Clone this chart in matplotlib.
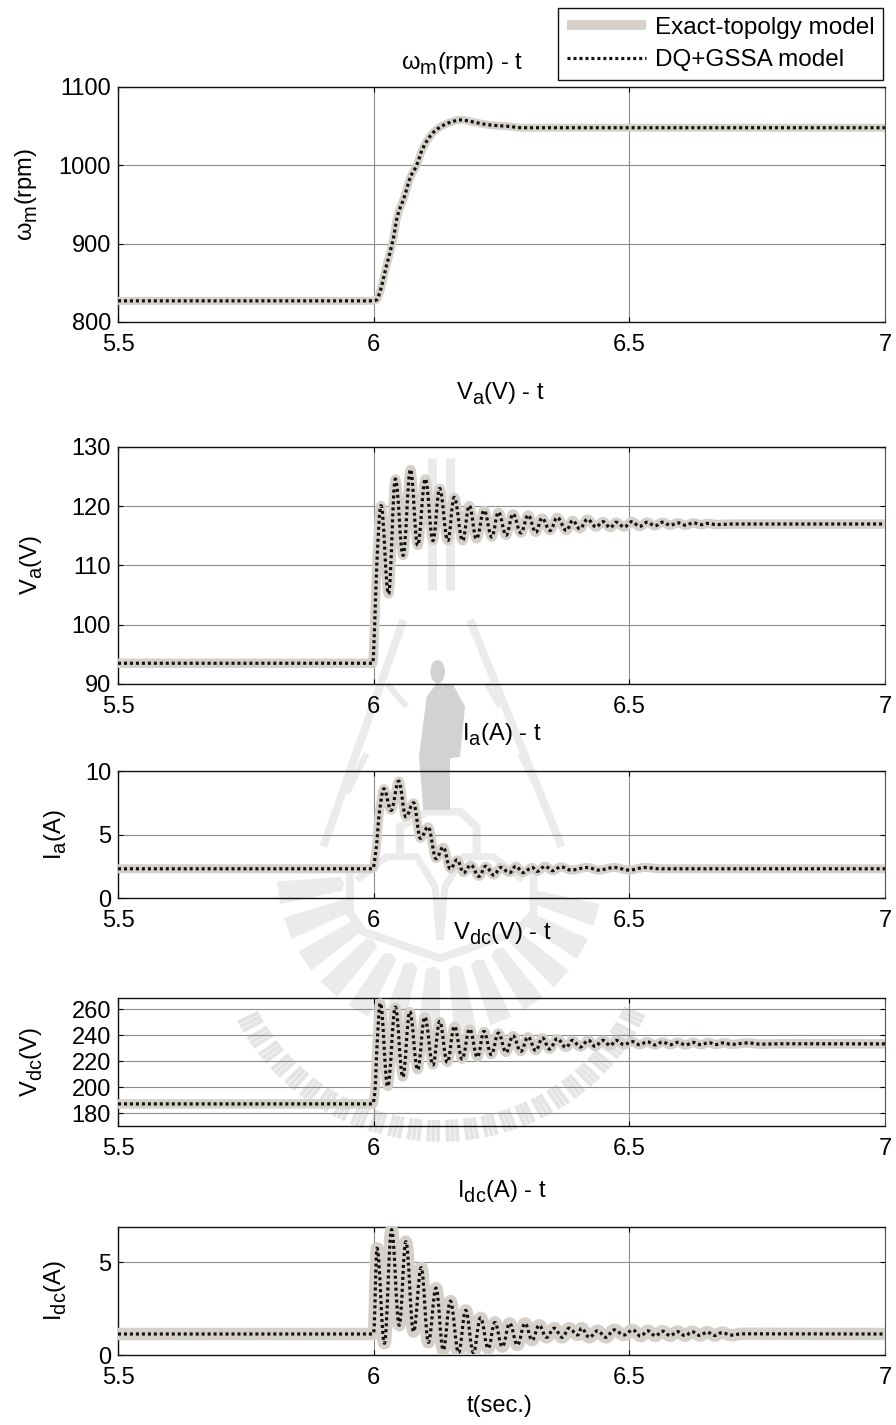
import matplotlib
matplotlib.use("Agg")
import matplotlib.pyplot as plt
from matplotlib import _mathtext
from matplotlib.lines import Line2D
from matplotlib.patches import Polygon, Ellipse, PathPatch
from matplotlib.path import Path
import math

W, H = 896, 1425
plt.rcParams['font.family'] = ['Liberation Sans', 'DejaVu Sans']
plt.rcParams['mathtext.fontset'] = 'custom'
plt.rcParams['mathtext.rm'] = 'Liberation Sans'
plt.rcParams['mathtext.it'] = 'Liberation Sans'
plt.rcParams['mathtext.bf'] = 'Liberation Sans'
plt.rcParams['mathtext.default'] = 'regular'
_mathtext.SHRINK_FACTOR = 0.85
_mathtext.FontConstantsBase.sub1 = 0.42
_mathtext.FontConstantsBase.sub2 = 0.42

# ---------- data ----------
wm_t = [5.5, 5.998, 6.005, 6.012, 6.025, 6.038, 6.046, 6.06, 6.072, 6.084, 6.095, 6.108, 6.12, 6.136,
        6.15, 6.17, 6.19, 6.212, 6.235, 6.26, 6.29, 6.5, 7.0]
wm_v = [827, 827, 828, 838, 872, 905, 934, 960, 985, 1000, 1020, 1035, 1044, 1051,
        1055, 1058, 1056, 1053, 1051, 1050, 1048, 1048, 1048]

va_t = [5.5, 5.998, 6.002, 6.006, 6.0144, 6.029, 6.0425, 6.0575, 6.072, 6.086, 6.101, 6.116, 6.129, 6.145,
        6.1575, 6.174, 6.187, 6.201, 6.216, 6.231, 6.244, 6.259, 6.2725, 6.288, 6.302, 6.317,
        6.329, 6.345, 6.359, 6.377, 6.389, 6.403, 6.418, 6.435, 6.448, 6.463, 6.474, 6.49,
        6.505, 6.52, 6.535, 6.55, 6.565, 6.58, 6.595, 6.61, 6.625, 6.64, 6.655, 6.67, 6.7, 7.0]
va_v = [93.5, 93.5, 100, 110, 120.1, 105.2, 124.6, 111.7, 126.2, 113.4, 124.6, 114.2, 123, 114.2,
        121.5, 114.2, 120.1, 114.5, 119.3, 114.8, 119, 115.1, 118.7, 115.5, 118.5, 115.6,
        118, 115.9, 118.1, 115.9, 117.6, 116.2, 117.8, 116.5, 117.4, 116.4, 117.3, 116.5,
        117.4, 116.6, 117.3, 116.7, 117.3, 116.8, 117.2, 116.8, 117.2, 116.9, 117.1, 116.9, 117, 117]

ia_t = [5.5, 5.998, 6.004, 6.012, 6.02, 6.034, 6.049, 6.063, 6.078, 6.0915, 6.1065, 6.122, 6.136, 6.15,
        6.163, 6.176, 6.19, 6.206, 6.219, 6.235, 6.248, 6.266, 6.278, 6.292, 6.31, 6.32,
        6.335, 6.35, 6.366, 6.386, 6.418, 6.44, 6.47, 6.5, 6.53, 6.56, 7.0]
ia_v = [2.3, 2.3, 3.6, 7.0, 8.6, 6.9, 9.2, 6.4, 7.5, 4.7, 5.6, 3.1, 4.0, 2.3,
        3.0, 2.0, 2.6, 1.7, 2.5, 1.8, 2.4, 2.0, 2.5, 2.0, 2.4, 2.1,
        2.5, 2.15, 2.45, 2.2, 2.4, 2.2, 2.4, 2.2, 2.4, 2.3, 2.3]

vdc_t = [5.5, 5.998, 6.002, 6.007, 6.013, 6.0275, 6.0425, 6.057, 6.0706, 6.086, 6.1, 6.116, 6.129, 6.144,
         6.158, 6.173, 6.1876, 6.203, 6.2157, 6.23, 6.244, 6.259, 6.2725, 6.2876, 6.302, 6.317,
         6.33, 6.344, 6.359, 6.376, 6.389, 6.404, 6.42, 6.433, 6.448, 6.463, 6.474, 6.49,
         6.505, 6.52, 6.535, 6.55, 6.565, 6.58, 6.595, 6.61, 6.625, 6.64, 6.655, 6.67, 6.685, 6.7, 6.73, 6.76, 6.8, 7.0]
vdc_v = [187, 187, 195, 235, 264.6, 200.5, 261.5, 207.7, 258, 213.3, 253.8, 217, 250.5, 219,
         246.7, 221.5, 244.6, 223, 242.8, 224.9, 241.5, 226.7, 239.5, 227.4, 238.5, 228,
         237.7, 229.2, 237.2, 230.5, 235.9, 230.8, 235.9, 231.3, 235.9, 232, 235.9, 232.6,
         235, 232.6, 234.8, 232.4, 234.6, 232.6, 234.4, 232.4, 234.3, 232.6, 234.2, 232.7, 234, 232.8, 233.9, 233, 233.3, 233.2]

idc_t = [5.5, 5.998, 6.0, 6.0065, 6.021, 6.035, 6.05, 6.063, 6.078, 6.093, 6.107, 6.122, 6.136,
         6.15, 6.166, 6.18, 6.195, 6.209, 6.224, 6.237, 6.2516, 6.266, 6.281, 6.296, 6.31,
         6.3235, 6.338, 6.353, 6.369, 6.382, 6.399, 6.4065, 6.4216, 6.438, 6.454, 6.47, 6.49,
         6.5065, 6.522, 6.536, 6.551, 6.565, 6.58, 6.594, 6.609, 6.623, 6.638, 6.652, 6.667, 6.681, 6.7, 6.72, 7.0]
idc_v = [1.13, 1.13, 1.2, 5.75, 0.63, 6.75, 1.6, 6.1, 1.26, 4.7, 0.68, 3.6, 0.27,
         2.9, 0.13, 2.4, 0.13, 2.0, 0.36, 1.75, 0.45, 1.7, 0.54, 1.7, 0.8,
         1.6, 0.95, 1.44, 0.95, 1.44, 1.08, 1.44, 0.95, 1.3, 0.95, 1.35, 1.08,
         1.35, 1.02, 1.3, 1.03, 1.28, 1.04, 1.26, 1.04, 1.25, 1.05, 1.23, 1.05, 1.2, 1.07, 1.14, 1.13]

x_ticks = [5.5, 6, 6.5, 7]
x_ticklabels = ['5.5', '6', '6.5', '7']
wm_ticks = [800, 900, 1000, 1100]
va_ticks = [90, 100, 110, 120, 130]
ia_ticks = [0, 5, 10]
vdc_ticks = [180, 200, 220, 240, 260]
idc_ticks = [0, 5]

legend_labels = ['Exact-topolgy model', 'DQ+GSSA model']
titles = [r'$\omega_m$(rpm) - t', r'$V_a$(V) - t', r'$I_a$(A) - t', r'$V_{dc}$(V) - t', r'$I_{dc}$(A) - t']
ylabels = [r'$\omega_m$(rpm)', r'$V_a$(V)', r'$I_a$(A)', r'$V_{dc}$(V)', r'$I_{dc}$(A)']

# ---------- styling ----------
GRAY = '#d5d1ca'
DOT = '#111111'
DOTS = (0, (0.95, 0.92))
FS = 17
fig = plt.figure(figsize=(W / 100, H / 100), dpi=100, facecolor='white')

def P(x, y):
    return (x / W, 1 - y / H)

def zp(zx, zy):
    return P(200 + zx / 3, 640 + zy / 3)

def curve_path(t, v):
    """Smooth drawing path through the read points: flat tangent at each peak and trough."""
    n = len(t)
    slopes = [0.0] * n
    for i in range(1, n - 1):
        a = (v[i] - v[i - 1]) / (t[i] - t[i - 1])
        b = (v[i + 1] - v[i]) / (t[i + 1] - t[i])
        if a * b > 0:
            slopes[i] = 2 * a * b / (a + b)
    verts, codes = [(t[0], v[0])], [Path.MOVETO]
    for i in range(n - 1):
        d = (t[i + 1] - t[i]) / 2.6
        verts += [(t[i] + d, v[i] + slopes[i] * d), (t[i + 1] - d, v[i + 1] - slopes[i + 1] * d), (t[i + 1], v[i + 1])]
        codes += [Path.CURVE4] * 3
    return Path(verts, codes)

# ---------- faint university watermark (behind the axes) ----------
WM = '#ebebeb'
def stroke(pts, lw=8, color=WM):
    xs, ys = zip(*pts)
    fig.add_artist(Line2D(xs, ys, transform=fig.transFigure, color=color, lw=lw * 0.72,
                          solid_joinstyle='round', solid_capstyle='butt', zorder=1))

stroke([zp(610, -60), zp(370, 620)]); stroke([zp(810, -60), zp(1085, 620)])
stroke([zp(560, 130), zp(620, 200)], 6); stroke([zp(500, 340), zp(440, 460)], 6)
stroke([zp(860, 130), zp(900, 200)], 6); stroke([zp(960, 340), zp(1020, 460)], 6)
for px in (432, 450):
    stroke([P(px, 458), P(px, 590)], 9)
stroke([zp(450, 700), zp(450, 820), zp(490, 875), zp(720, 955), zp(950, 875), zp(1000, 820), zp(1000, 700)])
stroke([zp(600, 640), zp(600, 560), zp(680, 515), zp(780, 515), zp(830, 560), zp(830, 640)])
stroke([zp(470, 720), zp(560, 650), zp(650, 650), zp(705, 740), zp(720, 900)], 7)
stroke([zp(970, 720), zp(880, 650), zp(790, 650), zp(735, 740), zp(720, 900)], 7)
for deg in range(172, 4, -13):
    a1, a2 = math.radians(deg - 4.0), math.radians(deg + 4.0)
    pts = []
    for r, a in ((290, (a1 + a2) / 2), (300, a1), (490, a1), (490, a2), (300, a2)):
        pts.append(zp(720 + r * math.cos(a), 690 + r * math.sin(a)))
    fig.add_artist(Polygon(pts, closed=True, transform=fig.transFigure, facecolor=WM,
                           edgecolor='none', zorder=1))
# letter-like texture along the arc at the bottom of the emblem
k = 0
deg = 153.0
while deg > 25:
    if k % 4 != 3:
        a = math.radians(deg)
        stroke([zp(720 + 610 * math.cos(a), 850 + 590 * math.sin(a)),
                zp(720 + 680 * math.cos(a), 850 + 655 * math.sin(a))], 4, '#e4e4e4')
    deg -= 1.25
    k += 1
PERSON = '#d2d2d2'
fig.add_artist(Polygon([zp(680, 170), zp(710, 130), zp(760, 135), zp(795, 200), zp(780, 350), zp(750, 355),
                        zp(750, 510), zp(670, 510), zp(657, 350)], closed=True, transform=fig.transFigure,
                       facecolor=PERSON, edgecolor='none', zorder=1))
fig.add_artist(Ellipse(zp(713, 95), 44 / 3 / W, 70 / 3 / H, transform=fig.transFigure,
                       facecolor=PERSON, edgecolor='none', zorder=1))

# ---------- panels ----------
panels = [
    (87, 322, (800, 1100), wm_ticks, wm_t, wm_v, 8, 27),
    (447, 684, (90, 130), va_ticks, va_t, va_v, 9.5, 32),
    (771, 898, (0, 10), ia_ticks, ia_t, ia_v, 9, 56),
    (998, 1126, (170, 268.5), vdc_ticks, vdc_t, vdc_v, 9.5, 32),
    (1227, 1355, (0, 6.89), idc_ticks, idc_t, idc_v, 12.5, 56),
]
title_xy = [(462, 64), (500, 394), (502, 735), (502, 934), (502, 1192)]
L, R = 118, 885

for i, (top, bot, ylim, yt, t, v, glw, lab_x) in enumerate(panels):
    ax = fig.add_axes([L / W, 1 - bot / H, (R - L) / W, (bot - top) / H], zorder=5)
    ax.patch.set_alpha(0)
    path = curve_path(t, v)
    ax.add_patch(PathPatch(path, fill=False, edgecolor=GRAY, lw=glw * 0.72, capstyle='butt',
                           joinstyle='round', zorder=3))
    ax.add_patch(PathPatch(path, fill=False, edgecolor=DOT, lw=2.3, linestyle=DOTS, capstyle='butt',
                           joinstyle='round', zorder=4))
    ax.set_xlim(5.5, 7)
    ax.set_ylim(*ylim)
    ax.set_xticks(x_ticks)
    ax.set_xticklabels(x_ticklabels, fontsize=FS)
    ax.set_yticks(yt)
    ax.tick_params(axis='y', labelsize=FS, direction='in', length=3.5, width=0.8, left=True, right=True, pad=5)
    ax.tick_params(axis='x', labelsize=FS, direction='in', length=3.5, width=0.8, top=True, bottom=True, pad=8.5)
    ax.grid(True, color='#8c8c8c', lw=0.8, ls='-', zorder=1)
    ax.set_axisbelow(True)
    for s in ('left', 'bottom', 'top'):
        ax.spines[s].set_linewidth(1.0)
        ax.spines[s].set_color('#111111')
    ax.spines['right'].set_linewidth(0.8)
    ax.spines['right'].set_color('#555555')
    x, y = title_xy[i]
    fig.text(*P(x, y), titles[i], fontsize=FS, ha='center', va='center', zorder=6)
    fig.text(*P(lab_x, (top + bot) / 2 - (10 if i == 0 else 0)), ylabels[i], fontsize=FS, rotation=90,
             ha='center', va='center', zorder=6)
    if i == 4:
        fig.text(*P(500, 1406), 't(sec.)', fontsize=FS, ha='center', va='center', zorder=6)

handles = [Line2D([], [], color=GRAY, lw=7, solid_capstyle='butt'),
           Line2D([], [], color=DOT, lw=2.3, linestyle=DOTS, dash_capstyle='butt')]
leg = fig.legend(handles, legend_labels, loc='upper left', bbox_to_anchor=P(558, 8), bbox_transform=fig.transFigure,
                 fontsize=17.5, frameon=True, fancybox=False, edgecolor='#111111', framealpha=1,
                 handlelength=3.25, handletextpad=0.37, borderpad=0.36, labelspacing=0.43, borderaxespad=0)
leg.get_frame().set_linewidth(1.0)
leg.set_zorder(10)

fig.savefig('out.png', dpi=100, facecolor='white')
